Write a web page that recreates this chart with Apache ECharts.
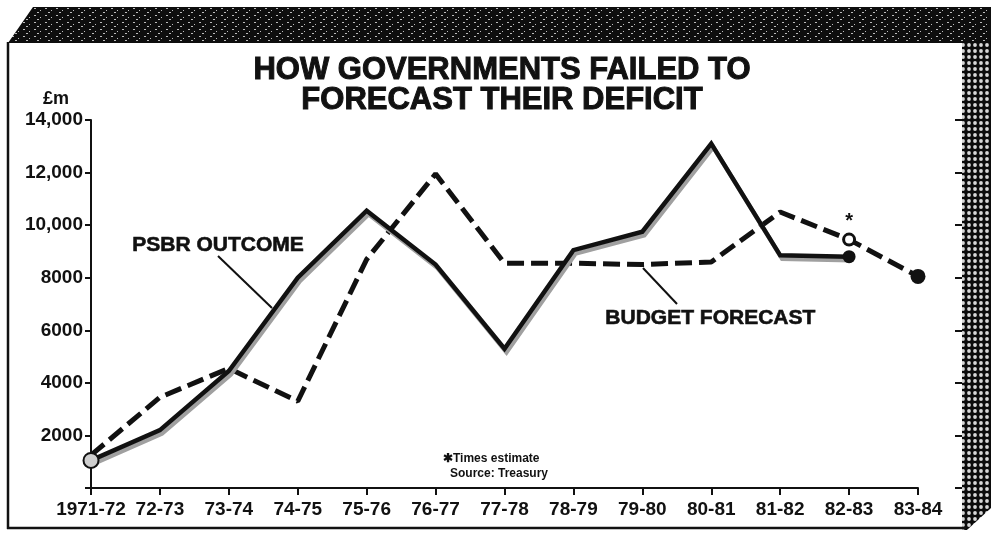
<!DOCTYPE html>
<html>
<head>
<meta charset="utf-8">
<script src="https://cdn.jsdelivr.net/npm/echarts@6/dist/echarts.min.js"></script>
<style>
html,body{margin:0;padding:0;background:#fff;}
#chart{width:991px;height:539px;}
</style>
</head>
<body>
<div id="chart"></div>
<script>
// ---- data ----
const categories = ['1971-72','72-73','73-74','74-75','75-76','76-77','77-78','78-79','79-80','80-81','81-82','82-83','83-84'];
const psbrOutcome = [1050, 2200, 4450, 8000, 10550, 8500, 5300, 9050, 9750, 13100, 8850, 8800, null];
const budgetForecast = [1250, 3450, 4550, 3300, 8700, 11950, 8550, 8550, 8500, 8600, 10500, 9450, 8050];
const yTicks = [0, 2000, 4000, 6000, 8000, 10000, 12000, 14000];
const titleLines = ['HOW GOVERNMENTS FAILED TO', 'FORECAST THEIR DEFICIT'];
const estimateIndex = 11; // 82-83 forecast is a Times estimate

const FONT = '"Liberation Sans", Arial, sans-serif';

function makePattern(w, h, draw) {
  const c = document.createElement('canvas');
  c.width = w; c.height = h;
  const ctx = c.getContext('2d');
  draw(ctx);
  return { image: c, repeat: 'repeat' };
}
const facePattern = makePattern(6, 6, ctx => {
  ctx.fillStyle = '#0c0c0c'; ctx.fillRect(0, 0, 6, 6);
  ctx.fillStyle = '#d8d8d8';
  ctx.beginPath(); ctx.arc(3, 3, 1.9, 0, Math.PI * 2); ctx.fill();
});
const topPattern = makePattern(11, 7, ctx => {
  ctx.fillStyle = '#0e0e0e'; ctx.fillRect(0, 0, 11, 7);
  ctx.fillStyle = '#bcbcbc';
  ctx.fillRect(1, 1, 2, 1); ctx.fillRect(7, 3, 1, 1); ctx.fillRect(4, 5, 2, 1);
});

function fmt(v) {
  if (v === 0) return '';
  return v >= 10000 ? v.toLocaleString('en-GB') : String(v);
}

const psbrData = psbrOutcome.map((v, i) => {
  if (i === 0) return { value: v, symbol: 'circle', symbolSize: 15, itemStyle: { color: '#cfcfcf', borderColor: '#111', borderWidth: 2 } };
  if (i === 11) return { value: v, symbol: 'circle', symbolSize: 13, itemStyle: { color: '#111' } };
  return v;
});
const forecastData = budgetForecast.map((v, i) => {
  if (i === estimateIndex) return { value: v, symbol: 'circle', symbolSize: 11, itemStyle: { color: '#fff', borderColor: '#111', borderWidth: 3 },
    label: { show: true, formatter: '*', position: 'top', distance: 1, fontSize: 20, fontWeight: 'bold', color: '#111', fontFamily: FONT } };
  if (i === budgetForecast.length - 1) return { value: v, symbol: 'circle', symbolSize: 15, itemStyle: { color: '#111' } };
  return v;
});

const chart = echarts.init(document.getElementById('chart'), null, { renderer: 'canvas' });
chart.setOption({
  backgroundColor: '#fff',
  animation: false,
  title: {
    text: titleLines.join('\n'),
    left: 497,
    top: 50,
    textAlign: 'center',
    textStyle: { fontFamily: FONT, fontSize: 31, fontWeight: 'bold', color: '#111', lineHeight: 30,
      textBorderColor: '#111', textBorderWidth: 1 }
  },
  grid: { left: 91, right: 73, top: 120, bottom: 51 },
  xAxis: {
    type: 'category',
    data: categories,
    boundaryGap: false,
    axisLine: { lineStyle: { color: '#111', width: 2 } },
    axisTick: { show: true, length: 7, lineStyle: { color: '#111', width: 2 } },
    axisLabel: { color: '#111', fontFamily: FONT, fontSize: 19, fontWeight: 'bold', margin: 12, interval: 0 },
    splitLine: { show: false }
  },
  yAxis: [{
    type: 'value',
    min: 0, max: 14000, interval: 2000,
    name: '£m',
    nameLocation: 'end',
    nameGap: 12,
    nameTextStyle: { color: '#111', fontFamily: FONT, fontSize: 18, fontWeight: 'bold', align: 'right', padding: [0, 22, 0, 0] },
    axisLine: { show: true, lineStyle: { color: '#111', width: 2 } },
    axisTick: { show: true, length: 6, lineStyle: { color: '#111', width: 2 } },
    axisLabel: { color: '#111', fontFamily: FONT, fontSize: 19, fontWeight: 'bold', margin: 8,
      formatter: v => yTicks.includes(v) ? fmt(v) : '' },
    splitLine: { show: false }
  }, {
    type: 'value',
    position: 'right',
    offset: 44,
    min: 0, max: 14000, interval: 2000,
    axisLine: { show: false },
    axisTick: { show: true, inside: true, length: 7, lineStyle: { color: '#111', width: 2 } },
    axisLabel: { show: false },
    splitLine: { show: false }
  }],
  series: [{
    name: 'BUDGET FORECAST',
    type: 'line',
    data: forecastData,
    symbol: 'none',
    showSymbol: true,
    z: 3,
    lineStyle: { color: '#111', width: 5, type: [17, 7], cap: 'butt' }
  }, {
    name: 'PSBR OUTCOME',
    type: 'line',
    data: psbrData,
    symbol: 'none',
    z: 4,
    lineStyle: { color: '#111', width: 4.5, shadowColor: '#a0a0a0', shadowBlur: 0, shadowOffsetX: 2, shadowOffsetY: 3.5, join: 'miter' }
  }],
  graphic: [
    // 3D box frame
    { type: 'polygon', z: 1, shape: { points: [[8, 43], [33, 7], [991, 7], [991, 41], [962, 41], [962, 43]] }, style: { fill: topPattern } },
    { type: 'polygon', z: 1, shape: { points: [[962, 41], [991, 41], [991, 508], [967, 530], [962, 530]] }, style: { fill: facePattern } },
    { type: 'line', z: 1, shape: { x1: 8, y1: 42, x2: 8, y2: 529 }, style: { stroke: '#111', lineWidth: 2.5 } },
    { type: 'line', z: 1, shape: { x1: 7, y1: 528, x2: 966, y2: 528 }, style: { stroke: '#111', lineWidth: 2.5 } },
    // annotations
    { type: 'text', z: 10, left: 132, top: 234, style: { text: 'PSBR OUTCOME', fill: '#111', font: 'bold 21px ' + FONT, stroke: '#111', lineWidth: 0.6 } },
    { type: 'line', z: 10, shape: { x1: 218, y1: 256, x2: 272, y2: 308 }, style: { stroke: '#111', lineWidth: 2 } },
    { type: 'text', z: 10, left: 605, top: 307, style: { text: 'BUDGET FORECAST', fill: '#111', font: 'bold 21px ' + FONT, stroke: '#111', lineWidth: 0.6 } },
    { type: 'line', z: 10, shape: { x1: 643, y1: 268, x2: 677, y2: 304 }, style: { stroke: '#111', lineWidth: 2 } },
    { type: 'text', z: 10, left: 443, top: 453, style: { text: '\u2731Times estimate', fill: '#111', font: 'bold 12px ' + FONT } },
    { type: 'text', z: 10, left: 450, top: 468, style: { text: 'Source: Treasury', fill: '#111', font: 'bold 12px ' + FONT } }
  ]
});
</script>
</body>
</html>
